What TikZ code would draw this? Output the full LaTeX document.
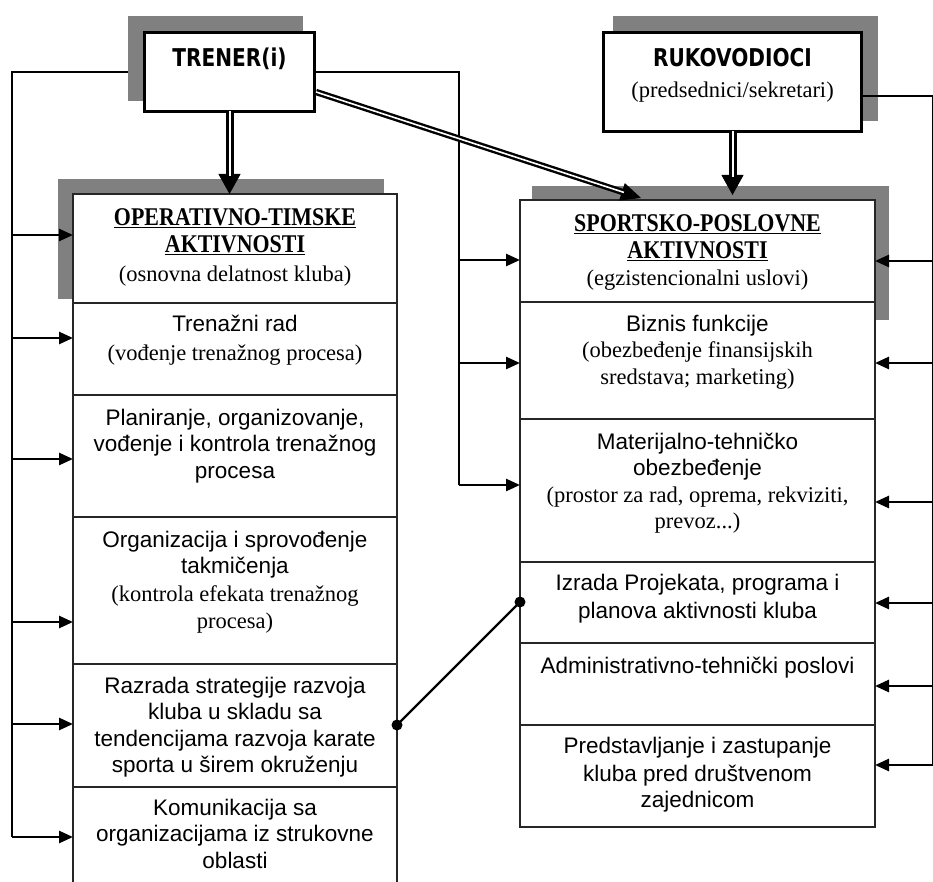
\documentclass[tikz,border=0pt]{standalone}
\usepackage{fontspec}
\setmainfont{Liberation Serif}
\setsansfont{Liberation Sans}
\newfontfamily\capfont[FakeStretch=0.82]{DejaVu Sans}
\newfontfamily\hdfont[FakeStretch=0.86]{Liberation Serif}
\usetikzlibrary{arrows.meta,calc}
\definecolor{shadowgray}{HTML}{808080}
\begin{document}
\begin{tikzpicture}[x=1pt,y=-1pt,
  sec/.style={draw=black!85, line width=1.1pt, fill=white, inner sep=0pt, outer sep=0pt, anchor=north west},
  topbox/.style={draw=black, line width=3pt, fill=white, inner sep=0pt, outer sep=0pt, anchor=north west},
  shade/.style={fill=shadowgray},
  txt/.style={align=center, inner sep=0pt, anchor=north, font=\rmfamily\fontsize{22.5}{26.5}\selectfont},
  captxt/.style={align=center, inner sep=0pt, anchor=north, font=\fontsize{22.5}{26.5}\selectfont},
  arr/.style={line width=2.6pt, -{Triangle[length=14pt,width=12pt]}},
  bus/.style={line width=1.2pt},
  bighead/.style={line width=1pt, -{Triangle[length=20pt,width=22pt]}},
  bighead2/.style={line width=1pt, -{Triangle[length=20pt,width=18pt]}},
  dblshaft/.style={draw=black, double=white, line width=3pt, double distance=2pt},
  dblshaft2/.style={draw=black, double=white, line width=2.4pt, double distance=1.6pt},
  dotline/.style={line width=2.4pt}]
\useasboundingbox (0,0) rectangle (933,882);

% helper y-levels
\coordinate (y602) at (0,602);
\coordinate (y725) at (0,725);

% top boxes (positions)
\coordinate (trenerNW) at (144.5,32.5);
\coordinate (rukNW) at (603.5,32.5);

% links from TRENER drawn under the shadow
\coordinate (lbtop) at (12,72);
\coordinate (lbbot) at (12,837);
\coordinate (mbtop) at (459,72);
\coordinate (mbbot) at (459,485);
\draw[bus] (145,72) -- (lbtop) -- (lbbot);

% shadows
\fill[shade] (128,16) rectangle (303,101);
\fill[shade] (613,16) rectangle (878,121);
\fill[shade] (58,179) rectangle (384,299);
\fill[shade] (532,186) rectangle (889,320);

% top boxes
\node[topbox, minimum width=170pt, minimum height=79pt] (trener) at (trenerNW) {};
\node[topbox, minimum width=258pt, minimum height=99pt] (ruk) at (rukNW) {};
\node[captxt] (trenertxt) at ($(trener.north)+(0,15.5)$) {\capfont\bfseries\fontsize{24.5}{26.5}\selectfont\strut TRENER(i)};
\node[captxt] (ruktxt) at ($(ruk.north)+(0,15.5)$) {\capfont\bfseries\fontsize{24.5}{26.5}\selectfont\strut RUKOVODIOCI\\[4.5pt]\rmfamily\mdseries (predsednici/sekretari)};

\draw[bus] (trener.east) -- (mbtop) -- (mbbot);
\coordinate (rbtop) at (933,96);
\coordinate (rbbot) at (933,765);
\draw[bus] (rbtop -| ruk.east) -- (rbtop) -- (rbbot);

% left column sections
\node[sec, minimum width=324pt, minimum height=109pt] (L1) at (73,194) {};
\node[sec, minimum width=324pt, minimum height=92pt]  (L2) at (73,303) {};
\node[sec, minimum width=324pt, minimum height=122pt] (L3) at (73,395) {};
\node[sec, minimum width=324pt, minimum height=147pt] (L4) at (73,517) {};
\node[sec, minimum width=324pt, minimum height=123pt] (L5) at (73,664) {};
\node[sec, minimum width=324pt, minimum height=120pt] (L6) at (73,787) {};

% right column sections
\node[sec, minimum width=355pt, minimum height=102pt] (R1) at (520,200) {};
\node[sec, minimum width=355pt, minimum height=117pt] (R2) at (520,302) {};
\node[sec, minimum width=355pt, minimum height=143pt] (R3) at (520,419) {};
\node[sec, minimum width=355pt, minimum height=81pt]  (R4) at (520,562) {};
\node[sec, minimum width=355pt, minimum height=82pt]  (R5) at (520,643) {};
\node[sec, minimum width=355pt, minimum height=102pt] (R6) at (520,725) {};

% left texts
\node[txt] (t1) at (235,207) {\hdfont\bfseries\fontsize{25.5}{26.5}\selectfont\strut\underline{OPERATIVNO-TIMSKE}\\\hdfont\bfseries\fontsize{25.5}{26.5}\selectfont\underline{AKTIVNOSTI}\\[3pt]\rmfamily(osnovna delatnost kluba)};
\node[txt] (t2) at (235,312.5) {\sffamily\strut Trenažni rad\\[2.5pt]\rmfamily(vođenje trenažnog procesa)};
\node[txt] (t3) at (235,406.5) {\sffamily\strut Planiranje, organizovanje,\\\sffamily vođenje i kontrola trenažnog\\\sffamily procesa};
\node[txt] (t4) at (235,528.5) {\sffamily\strut Organizacija i sprovođenje\\\sffamily takmičenja\\[1.5pt]\rmfamily(kontrola efekata trenažnog\\\rmfamily procesa)};
\node[txt] (t5) at (235,674.5) {\sffamily\strut Razrada strategije razvoja\\\sffamily kluba u skladu sa\\\sffamily tendencijama razvoja karate\\\sffamily sporta u širem okruženju};
\node[txt] (t6) at (235,796.5) {\sffamily\strut Komunikacija sa\\\sffamily organizacijama iz strukovne\\\sffamily oblasti};

% right texts
\node[txt] (u1) at (697.5,213) {\hdfont\bfseries\fontsize{25.5}{26.5}\selectfont\strut\underline{SPORTSKO-POSLOVNE}\\\hdfont\bfseries\fontsize{25.5}{26.5}\selectfont\underline{AKTIVNOSTI}\\[1pt]\rmfamily(egzistencionalni uslovi)};
\node[txt] (u2) at (697.5,312.5) {\sffamily\strut Biznis funkcije\\\rmfamily(obezbeđenje finansijskih\\\rmfamily sredstava; marketing)};
\node[txt] (u3) at (697.5,430.5) {\sffamily\strut Materijalno-tehničko\\\sffamily obezbeđenje\\\rmfamily(prostor za rad, oprema, rekviziti,\\\rmfamily prevoz...)};
\node[txt] (u4) at (697.5,571.5) {\sffamily\strut Izrada Projekata, programa i\\[1.5pt]\sffamily planova aktivnosti kluba};
\node[txt] (u5) at (697.5,654.5) {\sffamily\strut Administrativno-tehnički poslovi};
\node[txt] (u6) at (697.5,734.5) {\sffamily\strut Predstavljanje i zastupanje\\[1.5pt]\sffamily kluba pred društvenom\\\sffamily zajednicom};

% bus arrows
\foreach \y in {235,338,459,622,724,837}{
  \coordinate (p) at (12,\y);
  \draw[arr] (p) -- (p -| L1.west);
}
\foreach \y in {260,363,485}{
  \coordinate (p) at (459,\y);
  \draw[arr] (p) -- (p -| R1.west);
}
\foreach \y in {261,363,502,603,686,765}{
  \coordinate (p) at (933,\y);
  \draw[arr] (p) -- (p -| R1.east);
}

% big arrows
\coordinate (ltop) at (trener.south |- L1.north);
\draw[bighead] (trener.south) -- (ltop);
\draw[dblshaft, shorten >=18pt] (trener.south) -- (ltop);
\coordinate (rtop) at ($(ruk.south |- R1.north)+(0,-5)$);
\draw[bighead] (ruk.south) -- (rtop);
\draw[dblshaft, shorten >=18pt] (ruk.south) -- (rtop);
\coordinate (dstart) at (316,92);
\coordinate (dtip) at (641,198);
\draw[bighead2] (dstart) -- (dtip);
\draw[dblshaft2, shorten >=18pt] (dstart) -- (dtip);

% dot connector
\coordinate (c1) at (L5.east |- y725);
\coordinate (c2) at (R4.west |- y602);
\draw[dotline] (c1) -- (c2);
\fill (c1) circle (5.5pt);
\fill (c2) circle (5.5pt);
\end{tikzpicture}
\end{document}
